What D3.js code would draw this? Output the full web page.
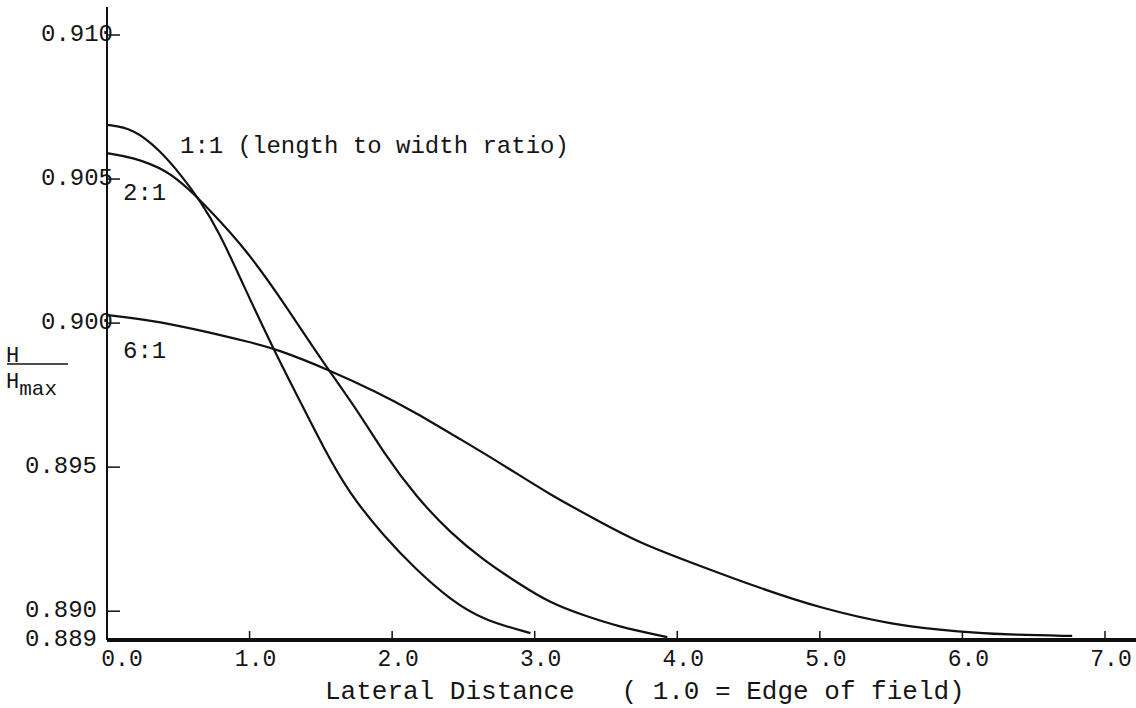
<!DOCTYPE html>
<html>
<head>
<meta charset="utf-8">
<script src="https://cdn.jsdelivr.net/npm/d3@7"></script>
<style>
  body { margin: 0; background: #fff; }
  text { font-family: "Liberation Mono", "Courier New", monospace; fill: #151515; }
</style>
</head>
<body>
<svg id="chart" width="1136" height="708"></svg>
<script>
// tick values and labels
const xTicks = [0, 1, 2, 3, 4, 5, 6, 7];
const xTickLabels = ["0.0", "1.0", "2.0", "3.0", "4.0", "5.0", "6.0", "7.0"];
const yTicks = [0.889, 0.890, 0.895, 0.900, 0.905, 0.910];
const yTickLabels = ["0.889", "0.890", "0.895", "0.900", "0.905", "0.910"];

// 1:1 ratio
const dist11 = [0, 0.18, 0.37, 0.53, 0.65, 0.79, 0.95, 1.16, 1.35, 1.52, 1.70, 1.94, 2.17, 2.41, 2.64, 2.97];
const h11 = [0.90688, 0.90677, 0.90601, 0.90507, 0.90427, 0.90313, 0.90139, 0.89917, 0.89733, 0.89566, 0.89408, 0.89262, 0.89143, 0.89039, 0.88969, 0.88924];

// 2:1 ratio
const dist21 = [0, 0.18, 0.42, 0.58, 0.70, 0.98, 1.26, 1.49, 1.77, 1.94, 2.17, 2.41, 2.64, 2.88, 3.11, 3.34, 3.58, 3.93];
const h21 = [0.90590, 0.90576, 0.90531, 0.90462, 0.90403, 0.90254, 0.90056, 0.89882, 0.89688, 0.89549, 0.89396, 0.89271, 0.89178, 0.89098, 0.89028, 0.88986, 0.88947, 0.88910];

// 6:1 ratio
const dist61 = [0, 0.30, 0.65, 1.00, 1.19, 1.56, 1.89, 2.17, 2.45, 2.76, 3.11, 3.46, 3.72, 4.16, 4.58, 5.00, 5.51, 5.98, 6.38, 6.77];
const h61 = [0.90028, 0.90011, 0.89976, 0.89934, 0.89910, 0.89837, 0.89761, 0.89688, 0.89605, 0.89514, 0.89403, 0.89310, 0.89240, 0.89157, 0.89080, 0.89011, 0.88952, 0.88928, 0.88917, 0.88914];

const seriesNames = ["1:1 (length to width ratio)", "2:1", "6:1"];

const svg = d3.select("#chart");

const x = d3.scaleLinear().domain([0, 7]).range([107, 1105]);
const y = d3.scaleLinear().domain([0.889, 0.910]).range([640, 35]);

// curves
const line = d3.line()
  .x(d => x(d[0]))
  .y(d => y(d[1]))
  .curve(d3.curveBasis);

const series = [
  d3.zip(dist11, h11),
  d3.zip(dist21, h21),
  d3.zip(dist61, h61)
];

svg.selectAll("path.curve")
  .data(series)
  .enter()
  .append("path")
  .attr("class", "curve")
  .attr("d", line)
  .attr("fill", "none")
  .attr("stroke", "#111")
  .attr("stroke-width", 2.2);

// y axis line
svg.append("line")
  .attr("x1", x(0)).attr("x2", x(0))
  .attr("y1", 7).attr("y2", y(0.889))
  .attr("stroke", "#111")
  .attr("stroke-width", 2);

// baseline (runs past the last tick)
svg.append("line")
  .attr("x1", x(0)).attr("x2", 1136)
  .attr("y1", y(0.889)).attr("y2", y(0.889))
  .attr("stroke", "#111")
  .attr("stroke-width", 4);

// x ticks
const xAxis = svg.append("g");
xAxis.selectAll("line")
  .data(xTicks.slice(1))
  .enter()
  .append("line")
  .attr("x1", d => x(d)).attr("x2", d => x(d))
  .attr("y1", y(0.889)).attr("y2", y(0.889) - 9)
  .attr("stroke", "#111")
  .attr("stroke-width", 1.5);

xAxis.selectAll("text")
  .data(xTicks)
  .enter()
  .append("text")
  .attr("x", d => x(d) + (d === 0 ? 15 : 6))
  .attr("y", 666)
  .attr("text-anchor", "middle")
  .attr("font-size", 23)
  .text((d, i) => xTickLabels[i]);

// y ticks
const yAxis = svg.append("g");
yAxis.selectAll("line")
  .data(yTicks.slice(1))
  .enter()
  .append("line")
  .attr("x1", x(0)).attr("x2", x(0) + 13)
  .attr("y1", d => y(d)).attr("y2", d => y(d))
  .attr("stroke", "#111")
  .attr("stroke-width", 1.5);

yAxis.selectAll("text")
  .data(yTicks)
  .enter()
  .append("text")
  .attr("x", d => d >= 0.8995 ? x(0) + 6 : x(0) - 10)
  .attr("y", d => y(d) + 6)
  .attr("text-anchor", "end")
  .attr("font-size", 24)
  .text((d, i) => yTickLabels[i]);

// curve labels
svg.append("text").attr("x", 180).attr("y", 153).attr("font-size", 24).text(seriesNames[0]);
svg.append("text").attr("x", 123).attr("y", 200).attr("font-size", 24).text(seriesNames[1]);
svg.append("text").attr("x", 123).attr("y", 358).attr("font-size", 24).text(seriesNames[2]);

// y axis title: H / H max
svg.append("text").attr("x", 6).attr("y", 362).attr("font-size", 22).text("H");
svg.append("line")
  .attr("x1", 7).attr("x2", 68)
  .attr("y1", 364).attr("y2", 364)
  .attr("stroke", "#111").attr("stroke-width", 1.5);
const hmax = svg.append("text").attr("x", 6).attr("y", 388).attr("font-size", 22);
hmax.append("tspan").text("H");
hmax.append("tspan").attr("dy", 7).attr("font-size", 21).text("max");

// x axis title
svg.append("text")
  .attr("x", 325)
  .attr("y", 699)
  .attr("font-size", 26)
  .attr("xml:space", "preserve")
  .style("white-space", "pre")
  .text("Lateral Distance   ( 1.0 = Edge of field)");
</script>
</body>
</html>
